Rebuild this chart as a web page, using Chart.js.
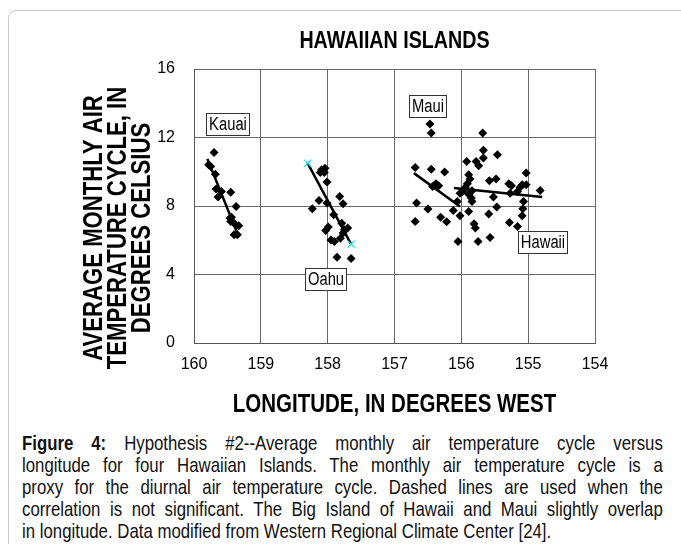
<!DOCTYPE html>
<html>
<head>
<meta charset="utf-8">
<script src="https://cdn.jsdelivr.net/npm/chart.js@4.4.1/dist/chart.umd.min.js"></script>
<style>
  html, body { margin: 0; padding: 0; background: #fff; }
  body { width: 681px; height: 544px; overflow: hidden; position: relative; }
  #card { position: absolute; left: 8px; top: 10px; width: 720px; height: 600px;
          border: 1px solid #c8c8c8; border-radius: 8px; }
  #wrap { position: absolute; left: 0; top: 0; width: 681px; height: 430px; }
  #caption { position: absolute; left: 22px; top: 432px; width: 801px;
             transform: scaleX(0.8); transform-origin: 0 0;
             font-family: 'Liberation Sans', Arial, sans-serif;
             font-size: 21px; line-height: 22px; color: #111; white-space: nowrap; }
  #caption div { text-align: justify; text-align-last: justify; }
  #caption div.last { text-align-last: left; }
</style>
</head>
<body>
<div id="card"></div>
<div id="wrap"><canvas id="myChart" width="681" height="430"></canvas></div>
<div id="caption">
  <div><b>Figure 4:</b> Hypothesis #2--Average monthly air temperature cycle versus</div>
  <div>longitude for four Hawaiian Islands. The monthly air temperature cycle is a</div>
  <div>proxy for the diurnal air temperature cycle. Dashed lines are used when the</div>
  <div>correlation is not significant. The Big Island of Hawaii and Maui slightly overlap</div>
  <div class="last">in longitude. Data modified from Western Regional Climate Center [24].</div>
</div>
<script>
const FONT = "'Liberation Sans', Arial, sans-serif";
const NARROW = 0.82; // the original uses a condensed face

// longitude (degrees west) and monthly air temperature cycle (deg C)
const kauaiLon = [159.70, 159.78, 159.75, 159.68, 159.67, 159.59, 159.45, 159.64, 159.37, 159.46, 159.44, 159.45, 159.40, 159.33, 159.40, 159.35];
const kauaiTemp = [11.13, 10.41, 10.31, 9.86, 8.99, 8.85, 8.81, 8.52, 7.97, 7.29, 7.35, 7.09, 7.00, 6.84, 6.32, 6.32];

const oahuLon = [158.09, 158.04, 158.11, 158.05, 158.01, 157.82, 157.77, 158.13, 158.23, 158.01, 157.91, 157.99, 158.03, 157.79, 157.75, 157.70, 157.77, 157.81, 157.95, 157.90, 157.86, 157.65];
const oahuTemp = [10.12, 10.21, 9.96, 9.96, 9.40, 8.56, 8.13, 8.32, 7.84, 8.17, 7.49, 6.77, 6.57, 7.00, 6.61, 6.71, 6.42, 6.12, 6.02, 5.92, 5.01, 4.93];

const mauiLon = [156.47, 156.45, 156.69, 156.45, 156.25, 156.38, 156.34, 156.43, 156.67, 156.50, 156.69, 156.31, 156.22, 156.12];
const mauiTemp = [12.79, 12.26, 10.25, 10.14, 9.98, 9.30, 9.18, 9.14, 8.17, 7.82, 7.09, 7.35, 7.08, 7.74];

const hawaiiLon = [155.68, 156.05, 156.02, 156.06, 155.92, 155.78, 155.74, 155.67, 155.67, 155.46, 155.89, 155.87, 155.91, 155.94, 155.98, 156.02, 155.89, 155.84, 155.85, 155.84, 155.58, 155.48, 155.52, 155.47, 155.89, 155.59, 155.81, 155.79, 155.75, 155.57, 155.29, 155.25, 155.27, 155.16, 155.12, 155.09, 155.03, 155.03, 155.07, 155.08, 155.09, 155.28, 155.16, 154.82];
const hawaiiTemp = [12.26, 5.92, 7.43, 8.26, 10.60, 10.60, 10.35, 11.25, 10.80, 10.99, 9.82, 9.57, 9.30, 9.10, 8.85, 8.75, 8.69, 8.89, 8.46, 8.26, 9.47, 9.57, 8.52, 7.94, 7.68, 7.54, 6.96, 6.71, 5.92, 6.16, 9.30, 9.18, 8.75, 8.85, 9.10, 9.24, 9.24, 9.92, 8.26, 7.84, 7.43, 7.04, 6.80, 8.91];

// trend line end points
const kauaiFitLon = [159.80, 159.36];
const kauaiFitTemp = [10.75, 6.5];
const oahuFitLon = [158.30, 157.65];
const oahuFitTemp = [10.5, 5.77];
const mauiFitLon = [156.71, 156.02];
const mauiFitTemp = [9.92, 7.97];
const hawaiiFitLon = [156.11, 154.79];
const hawaiiFitTemp = [9.05, 8.52];

// island name boxes (anchor in data units)
const islandNames = ['Kauai', 'Oahu', 'Maui', 'Hawaii'];
const nameLon = [159.50, 158.03, 156.51, 154.78];
const nameTemp = [12.8, 3.74, 13.83, 5.9];

const xTicks = [160, 159, 158, 157, 156, 155, 154];
const yTicks = [0, 4, 8, 12, 16];

function pts(xs, ys) {
  return xs.map((x, i) => ({ x: x, y: ys[i] }));
}

function markers(label, xs, ys) {
  return {
    label: label,
    data: pts(xs, ys),
    pointStyle: 'rectRot',
    pointRadius: 4.5,
    pointBackgroundColor: '#000',
    pointBorderColor: '#000',
    pointBorderWidth: 0,
    showLine: false,
  };
}

function fitLine(label, xs, ys, ends) {
  return {
    label: label,
    data: pts(xs, ys),
    showLine: true,
    borderColor: '#000',
    borderWidth: 2.5,
    pointRadius: ends ? 5 : 0,
    pointStyle: 'crossRot',
    pointBorderColor: '#22e6e6',
    pointBorderWidth: 1.2,
  };
}

// condensed text: squeeze along the text direction
function narrowText(ctx, text, x, y, angle) {
  ctx.save();
  ctx.translate(x, y);
  if (angle) ctx.rotate(angle);
  ctx.scale(NARROW, 1);
  ctx.fillText(text, 0, 0);
  ctx.restore();
}

const decorations = {
  id: 'decorations',
  afterDraw(chart) {
    const { ctx, chartArea, scales } = chart;
    const cx = (chartArea.left + chartArea.right) / 2;
    ctx.save();
    ctx.fillStyle = '#000';
    ctx.textAlign = 'center';
    ctx.textBaseline = 'middle';

    ctx.font = 'bold 24px ' + FONT;
    narrowText(ctx, 'HAWAIIAN ISLANDS', cx, chartArea.top - 28);

    ctx.font = 'bold 25px ' + FONT;
    narrowText(ctx, 'LONGITUDE, IN DEGREES WEST', cx, chartArea.bottom + 62);

    ctx.font = 'bold 27px ' + FONT;
    const yLines = ['AVERAGE MONTHLY AIR', 'TEMPERATURE CYCLE, IN', 'DEGREES CELSIUS'];
    const cy = (chartArea.top + chartArea.bottom) / 2 + 22;
    yLines.forEach((t, i) => {
      narrowText(ctx, t, chartArea.left - 99 + i * 24, cy, -Math.PI / 2);
    });

    ctx.font = '18px ' + FONT;
    islandNames.forEach((name, i) => {
      const px = scales.x.getPixelForValue(nameLon[i]);
      const py = scales.y.getPixelForValue(nameTemp[i]);
      const w = Math.round(ctx.measureText(name).width * NARROW + 5);
      const h = 22;
      const bx = Math.round(px - w / 2);
      const by = Math.round(py - h / 2);
      ctx.fillStyle = '#fff';
      ctx.fillRect(bx, by, w, h);
      ctx.strokeStyle = '#333';
      ctx.lineWidth = 1;
      ctx.strokeRect(bx + 0.5, by + 0.5, w, h);
      ctx.fillStyle = '#000';
      narrowText(ctx, name, bx + w / 2 + 0.5, by + h / 2 + 1.5);
    });
    ctx.restore();
  },
};

const ctx = document.getElementById('myChart').getContext('2d');

const myChart = new Chart(ctx, {
  type: 'scatter',
  data: {
    datasets: [
      fitLine('Kauai fit', kauaiFitLon, kauaiFitTemp, false),
      fitLine('Oahu fit', oahuFitLon, oahuFitTemp, true),
      fitLine('Maui fit', mauiFitLon, mauiFitTemp, false),
      fitLine('Hawaii fit', hawaiiFitLon, hawaiiFitTemp, false),
      markers('Kauai', kauaiLon, kauaiTemp),
      markers('Oahu', oahuLon, oahuTemp),
      markers('Maui', mauiLon, mauiTemp),
      markers('Hawaii', hawaiiLon, hawaiiTemp),
    ],
  },
  options: {
    responsive: false,
    animation: false,
    layout: { padding: { top: 69, right: 86, left: 0, bottom: 0 } },
    plugins: {
      legend: { display: false },
      tooltip: { enabled: false },
    },
    scales: {
      x: {
        type: 'linear',
        reverse: true,
        min: 154,
        max: 160,
        afterFit: (scale) => { scale.height = 87; },
        afterBuildTicks: (scale) => { scale.ticks = xTicks.map((v) => ({ value: v })); },
        grid: { color: '#6a6a6a', lineWidth: 1, drawTicks: false },
        border: { color: '#555', width: 1 },
        ticks: { color: '#000', padding: 12, font: { family: FONT, size: 16 } },
      },
      y: {
        type: 'linear',
        min: 0,
        max: 16,
        afterFit: (scale) => { scale.width = 194; },
        afterBuildTicks: (scale) => { scale.ticks = yTicks.map((v) => ({ value: v })); },
        grid: { color: '#6a6a6a', lineWidth: 1, drawTicks: false },
        border: { color: '#555', width: 1 },
        ticks: { color: '#000', padding: 19, font: { family: FONT, size: 16 } },
      },
    },
  },
  plugins: [decorations],
});
</script>
</body>
</html>
